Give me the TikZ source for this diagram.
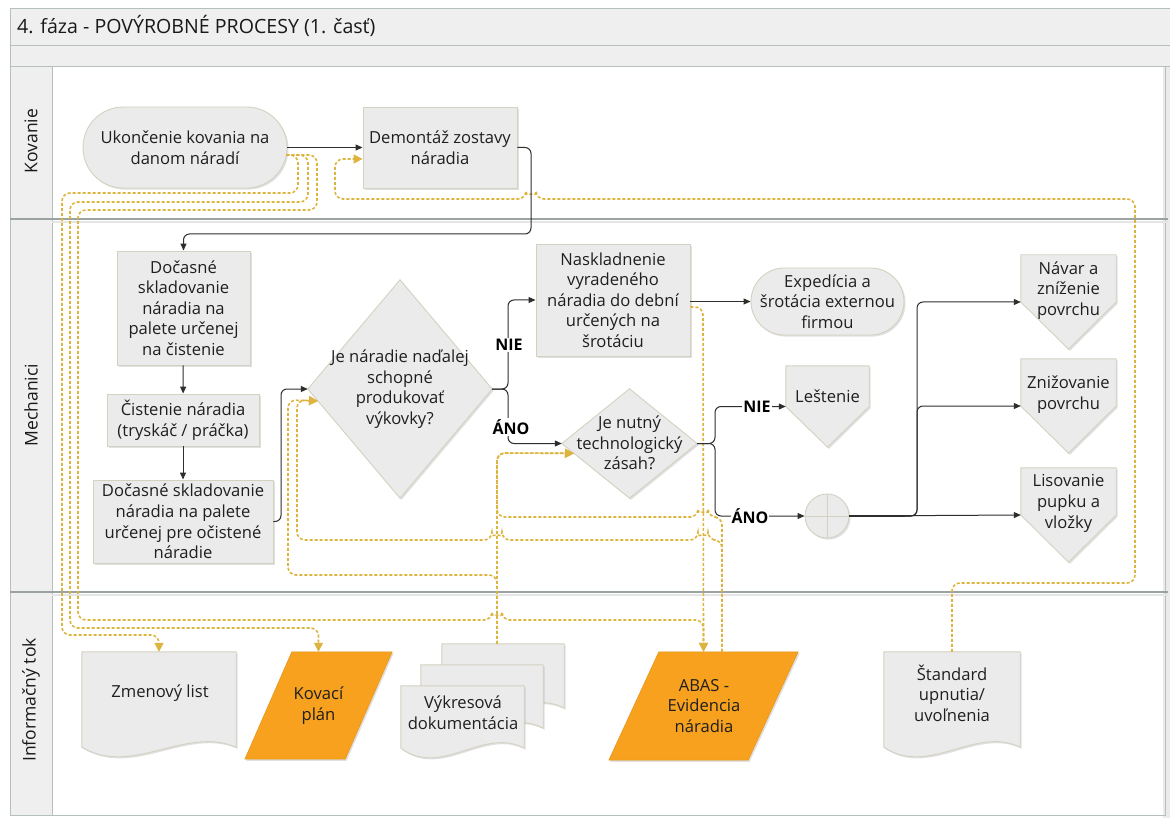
\documentclass[tikz,border=0pt]{standalone}
\usepackage{fontspec}
\setmainfont{Open Sans}
\usetikzlibrary{arrows.meta,calc,shadows}

\definecolor{nodefill}{HTML}{EBEBEB}
\definecolor{nodeedge}{HTML}{D5D1C1}
\definecolor{poolline}{HTML}{B5BFBF}
\definecolor{poolfill}{HTML}{EFEFEF}
\definecolor{infoc}{HTML}{DDB43E}
\definecolor{orangec}{HTML}{F7A11E}
\definecolor{flowc}{HTML}{2E2E2E}

\tikzset{
  base/.style={font=\fontsize{16.6}{20.6}\selectfont, align=center, inner sep=0pt, text=black!88},
  softshadow/.style={drop shadow={shadow xshift=1.5pt, shadow yshift=-1.6pt, opacity=0.22, fill=black!55}},
  procbox/.style={base, draw=nodeedge, fill=nodefill, line width=0.9pt, softshadow},
  frame/.style={inner sep=0pt, draw=none},
  shapefill/.style={draw=nodeedge, fill=nodefill, line width=0.9pt, softshadow},
  orangefill/.style={draw=orangec!92!black, fill=orangec, line width=0.5pt, softshadow},
  flow/.style={draw=flowc, line width=1pt, rounded corners=6pt, -{Triangle[length=7pt,width=6pt]}},
  flowplain/.style={draw=flowc, line width=1pt, rounded corners=6pt},
  info/.style={draw=infoc, line width=1.6pt, dash pattern=on 3pt off 2pt, rounded corners=8pt, -{Triangle[length=9pt,width=9pt]}},
  answer/.style={font=\bfseries\fontsize{16}{18}\selectfont, fill=white, inner sep=1pt, text=black},
  lanetitle/.style={font=\fontsize{17.5}{20}\selectfont, text=black!90, inner sep=0pt},
  pooltitle/.style={font=\fontsize{19.6}{22}\selectfont, text=black!90, inner sep=0pt},
  lanesep/.style={draw=poolline!85!black, line width=1.6pt},
  poolbox/.style={draw=poolline, line width=0.9pt, fill=poolfill},
}

% outline helpers for the non-rectangular symbols
\newcommand{\docoutline}[2][shapefill]{\path[#1] (#2.north west) -- (#2.north east) -- (#2.south east)
  .. controls ($(#2.south west)!0.67!(#2.south east)+(0,-22)$) and ($(#2.south west)!0.33!(#2.south east)+(0,30)$) .. (#2.south west) -- cycle;}
\newcommand{\pentoutline}[1]{\path[shapefill] (#1.north west) -- (#1.north east) -- (#1.east) -- (#1.south) -- (#1.west) -- cycle;}
\newcommand{\diaoutline}[1]{\path[shapefill] (#1.north) -- (#1.east) -- (#1.south) -- (#1.west) -- cycle;}
\newcommand{\slantoutline}[2]{\path[orangefill] ($(#1.north west)+(#2,0)$) -- (#1.north east) -- ($(#1.south east)+(-#2,0)$) -- (#1.south west) -- cycle;}

\begin{document}
\begin{tikzpicture}[x=1pt,y=-1pt]
\useasboundingbox (0,0) rectangle (1170,818);
\fill[white] (0,0) rectangle (1170,818);

% ---- pool and lanes ----
\fill[black!8] (1163,66) rectangle (1170,818);
\draw[poolbox] (10,8) rectangle (1175,45);
\draw[poolbox] (10,45) rectangle (1175,66);
\draw[poolbox] (10,66) rectangle (52,815);
\draw[poolline, line width=0.9pt] (52,66) -- (1165,66) -- (1165,815) -- (10,815);
\draw[lanesep] (10,219) -- (1168,219);
\draw[lanesep] (10,592) -- (1168,592);
\draw[black!10, line width=1.5pt] (52,222) -- (1168,222);
\draw[black!10, line width=1.5pt] (52,595) -- (1168,595);

\node[pooltitle, anchor=west] (title) at (17,26) {4. fáza - POVÝROBNÉ PROCESY (1. časť)};
\node[lanetitle, rotate=90] (laneK) at (31,141) {Kovanie};
\node[lanetitle, rotate=90] (laneM) at (31,405) {Mechanici};
\node[lanetitle, rotate=90] (laneI) at (31,700) {Informačný tok};

% ---- Kovanie ----
\node[procbox, rounded corners=40.4pt, minimum width=204pt, minimum height=81pt] (start) at (185,147.5) {Ukončenie kovania na\\danom náradí};
\node[procbox, minimum width=154pt, minimum height=81pt] (demont) at (440,147.5) {Demontáž zostavy\\náradia};

% ---- Mechanici ----
\node[procbox, minimum width=133pt, minimum height=114pt] (sklad1) at (183.5,308) {Dočasné\\skladovanie\\náradia na\\palete určenej\\na čistenie};
\node[procbox, minimum width=152pt, minimum height=52pt] (cist) at (183,420) {Čistenie náradia\\(tryskáč / práčka)};
\node[procbox, minimum width=180pt, minimum height=83pt] (sklad2) at (183,521.5) {Dočasné skladovanie\\náradia na palete\\určenej pre očistené\\náradie};

\node[frame, minimum width=184pt, minimum height=218pt] (q1) at (400,389) {};
\diaoutline{q1}
\node[base] (q1t) at (400,389) {Je náradie naďalej\\schopné\\produkovať\\výkovky?};

\node[procbox, minimum width=154pt, minimum height=112pt] (nask) at (613,300) {Naskladnenie\\vyradeného\\náradia do dební\\určených na\\šrotáciu};
\node[procbox, rounded corners=33.4pt, minimum width=153pt, minimum height=67pt] (exped) at (827.5,301.5) {Expedícia a\\šrotácia externou\\firmou};

\node[frame, minimum width=135pt, minimum height=109pt] (q2) at (629.5,443.5) {};
\diaoutline{q2}
\node[base] (q2t) at (629.5,443) {Je nutný\\technologický\\zásah?};

\node[frame, minimum width=83pt, minimum height=81pt] (lest) at (827.5,406.5) {};
\pentoutline{lest}
\node[base] (lestt) at (827.5,396) {Leštenie};

\node[draw=nodeedge, fill=nodefill, line width=0.9pt, softshadow, circle, minimum size=44pt, inner sep=0pt] (sum) at (827,516) {};
\draw[nodeedge, line width=0.9pt] (sum.north) -- (sum.south) (sum.west) -- (sum.east);

\node[frame, minimum width=95pt, minimum height=94pt] (navar) at (1068.5,302) {};
\pentoutline{navar}
\node[base] (navart) at (1068.5,290.5) {Návar a\\zníženie\\povrchu};
\node[frame, minimum width=95pt, minimum height=94pt] (zniz) at (1068.5,406) {};
\pentoutline{zniz}
\node[base] (znizt) at (1068.5,394.5) {Znižovanie\\povrchu};
\node[frame, minimum width=95pt, minimum height=94pt] (lis) at (1068.5,515) {};
\pentoutline{lis}
\node[base] (list) at (1068.5,503.5) {Lisovanie\\pupku a\\vložky};

% ---- Informačný tok ----
\node[frame, minimum width=154pt, minimum height=95pt] (zmen) at (159,699.5) {};
\docoutline{zmen}
\node[base] (zment) at (160,693) {Zmenový list};

\node[frame, minimum width=147pt, minimum height=107pt] (kov) at (318.5,705.5) {};
\slantoutline{kov}{47}
\node[base] (kovt) at (318.5,705.5) {Kovací\\plán};

\node[frame, minimum width=122pt, minimum height=64pt] (vb) at (503,676) {};
\docoutline{vb}
\node[frame, minimum width=122pt, minimum height=63pt] (vm) at (482,696.5) {};
\docoutline{vm}
\node[frame, minimum width=123pt, minimum height=62pt] (vf) at (462.5,717) {};
\docoutline{vf}
\node[base] (vft) at (463,713) {Výkresová\\dokumentácia};

\node[frame, minimum width=189pt, minimum height=108pt] (abas) at (703.5,706) {};
\slantoutline{abas}{50}
\node[base] (abast) at (704,706) {ABAS -\\Evidencia\\náradia};

\node[frame, minimum width=136pt, minimum height=95pt] (stand) at (952,699.5) {};
\docoutline{stand}
\node[base] (standt) at (952,693) {Štandard\\upnutia/\\uvoľnenia};

% ---- information flow (dashed) ----
\coordinate (s0) at ($(start.east)+(-1,7.5)$);
\coordinate (v0) at ($(vb.north)+(-6,0)$);
\coordinate (a1) at ($(abas.north)+(18.5,0)$);
\coordinate (q1in) at ($(q1.west)!0.11!(q1.south)$);
\coordinate (q2in) at ($(q2.west)!0.18!(q2.south)$);

\draw[info] (s0) -- (298,155) -- (298,193) -- (62,193) -- (62,635) -- (zmen.north |- 0,635) -- (zmen.north);
\draw[info] (s0) -- (308,155) -- (308,202) -- (70,202) -- (70,628) -- (kov.north |- 0,628) -- (kov.north);
\draw[info] (s0) -- (317,155) -- (317,210) -- (78,210) -- (78,620) -- (492,620) arc[start angle=180,end angle=360,radius=5] -- (abas.north |- 0,620) -- (abas.north);
\draw[info] (stand.north) -- (952,583) -- (1135,583) -- (1135,199) -- (536,199) arc[start angle=0,end angle=-180,radius=5] -- (335,199) -- (335,159) -- ($(demont.west)+(0,11.5)$);
\draw[info] (v0) -- (497,453) -- (q2in);
\draw[info] (v0) -- (497,575) -- (288,575) -- (288,400) -- (q1in);
\draw[info] (a1) -- (722,540) -- (708,540) arc[start angle=0,end angle=-180,radius=5] -- (502,540) arc[start angle=0,end angle=-180,radius=5] -- (297,540) -- (297,400) -- (q1in);
\draw[info] (a1) -- (722,517) -- (708,517) arc[start angle=0,end angle=-180,radius=5] -- (497,517) -- (497,453) -- (q2in);
\draw[info] ($(nask.east)+(0,7)$) -- (703,307) -- (abas.north);

% ---- process flow ----
\draw[flow] (start.east) -- (demont.west);
\draw[flow] (demont.east) -- (531,147.5) -- (531,234) -- (sklad1.north |- 0,234) -- (sklad1.north);
\draw[flow] (sklad1) -- (cist);
\draw[flow] (cist) -- (sklad2);
\draw[flow] (sklad2.east) -- (281,521.5) -- (281,389) -- (q1.west);
\draw[flow] (q1.east) -- (508,389) -- (508,300) -- (nask.west);
\draw[flow] (q1.east) -- (508,389) -- (508,443.5) -- (q2.west);
\draw[flow] (nask.east |- 0,301.5) -- (exped.west);
\draw[flow] (q2.east) -- (715,443.5) -- (715,406.5) -- (lest.west);
\draw[flow] (q2.east) -- (715,443.5) -- (715,516) -- (sum.west);
\draw[flowplain, line width=1.6pt] (sum.east) -- (905,516);
\draw[flow] (sum.east) -- (917,516) -- (917,302) -- (navar.west);
\draw[flow] (sum.east) -- (917,516) -- (917,406) -- (zniz.west);
\draw[flow] (sum.east) -- (lis.west);

\node[answer] (nie1) at (509,345) {NIE};
\node[answer] (ano1) at (511,427) {ÁNO};
\node[answer] (nie2) at (757,406.5) {NIE};
\node[answer] (ano2) at (750,516) {ÁNO};
\end{tikzpicture}
\end{document}
